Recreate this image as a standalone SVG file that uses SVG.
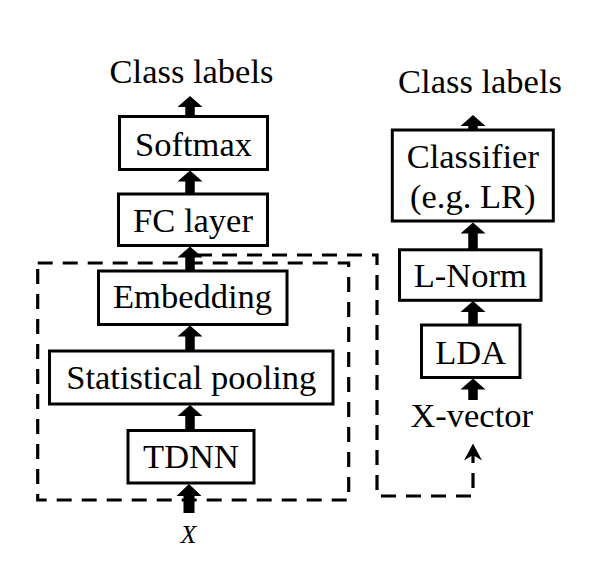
<svg xmlns="http://www.w3.org/2000/svg" width="591" height="577" viewBox="0 0 591 577">
<style>
.box{fill:#fff;stroke:#000;stroke-width:3}
.t{font-family:"Liberation Serif","Times New Roman",serif;font-size:34.5px;fill:#000;text-anchor:middle}
.arr{fill:#000;stroke:none}
.dash{fill:none;stroke:#000;stroke-width:3.2;stroke-dasharray:15 10}
</style>
<rect width="591" height="577" fill="#fff"/>
<g id="connectors">
<rect class="dash" x="37.7" y="263" width="311" height="237"/>
<path class="dash" d="M197 255 H377 V496 H473 V452"/>
<path class="arr" d="M473 443.5 L482 460.5 L473 455 L464 460.5 Z"/>
<path class="arr" d="M190 96 L202.5 107 L194.75 107 L194.75 117 L185.25 117 L185.25 107 L177.5 107 Z"/>
<path class="arr" d="M190 170.5 L202.5 181.5 L194.75 181.5 L194.75 194.5 L185.25 194.5 L185.25 181.5 L177.5 181.5 Z"/>
<path class="arr" d="M190 246.5 L202.5 257.5 L194.75 257.5 L194.75 271.5 L185.25 271.5 L185.25 257.5 L177.5 257.5 Z"/>
<path class="arr" d="M190 325.5 L202.5 336.5 L194.75 336.5 L194.75 351.5 L185.25 351.5 L185.25 336.5 L177.5 336.5 Z"/>
<path class="arr" d="M190 405 L202.5 416 L194.75 416 L194.75 431 L185.25 431 L185.25 416 L177.5 416 Z"/>
<path class="arr" d="M189 484 L201.5 496 L194.5 496 L194.5 513 L183.5 513 L183.5 496 L176.5 496 Z"/>
<path class="arr" d="M473 115 L485.5 126 L477.75 126 L477.75 130 L468.25 130 L468.25 126 L460.5 126 Z"/>
<path class="arr" d="M473 222.5 L485.5 233.5 L477.75 233.5 L477.75 250 L468.25 250 L468.25 233.5 L460.5 233.5 Z"/>
<path class="arr" d="M473 301 L485.5 312 L477.75 312 L477.75 325.5 L468.25 325.5 L468.25 312 L460.5 312 Z"/>
<path class="arr" d="M473 378.5 L485.5 389.5 L477.75 389.5 L477.75 400 L468.25 400 L468.25 389.5 L460.5 389.5 Z"/>
</g>
<g id="class-labels-left"><text class="t" x="191.5" y="83.3">Class labels</text></g>
<g id="softmax"><rect class="box" x="119.5" y="116.5" width="148" height="53"/><text class="t" x="193.5" y="156">Softmax</text></g>
<g id="fc-layer"><rect class="box" x="118.5" y="194" width="149" height="51.5"/><text class="t" x="193" y="231.5">FC layer</text></g>
<g id="embedding"><rect class="box" x="98.5" y="271" width="188.5" height="53.5"/><text class="t" x="192.5" y="308">Embedding</text></g>
<g id="stat-pooling"><rect class="box" x="49.5" y="351" width="283.5" height="53"/><text class="t" x="191.3" y="389.3">Statistical pooling</text></g>
<g id="tdnn"><rect class="box" x="128" y="430.5" width="126" height="52.5"/><text class="t" x="191" y="468.3">TDNN</text></g>
<g id="input-x"><text class="t" x="188.5" y="543" style="font-size:26px;font-style:italic">X</text></g>
<g id="class-labels-right"><text class="t" x="480" y="93">Class labels</text></g>
<g id="classifier"><rect class="box" x="392.3" y="130" width="161" height="91"/><text class="t" x="472.8" y="168.3">Classifier</text><text class="t" x="472.8" y="208.3">(e.g. LR)</text></g>
<g id="l-norm"><rect class="box" x="399.5" y="249.8" width="141.5" height="50.5"/><text class="t" x="470.3" y="286.7">L-Norm</text></g>
<g id="lda"><rect class="box" x="421.5" y="325" width="98.5" height="52.5"/><text class="t" x="470.7" y="364">LDA</text></g>
<g id="x-vector"><text class="t" x="471.7" y="427">X-vector</text></g>
</svg>
